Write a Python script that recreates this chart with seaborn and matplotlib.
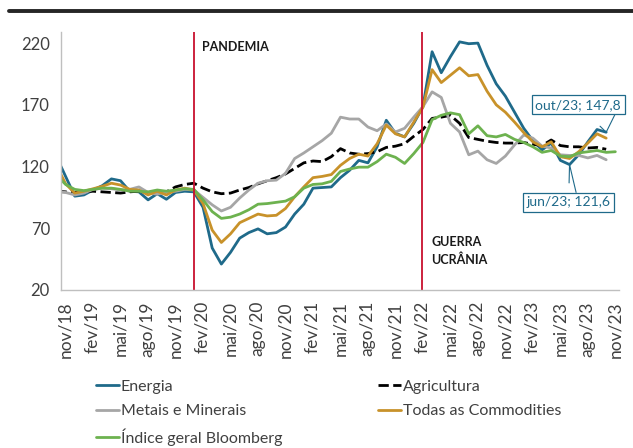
import matplotlib
matplotlib.use('Agg')
import matplotlib.pyplot as plt
import matplotlib.transforms as mtransforms
from matplotlib.lines import Line2D
import seaborn as sns
import numpy as np
import pandas as pd

# months from out/18 to nov/23 (out/18 sits just left of the axis and gets clipped)
months = pd.period_range('2018-10', '2023-11', freq='M')

energia = [128, 112, 96, 97, 101, 104.5, 110, 108.5, 100, 99.5, 93, 98, 93.5, 99, 100, 99.5,
           87, 54, 41, 50.5, 62, 66.5, 69.5, 65.5, 66.5, 71, 81.5, 89.5, 102.5, 103, 103.5, 111,
           117, 125, 123, 136, 157.5, 147, 144, 155, 168.5, 213, 196, 209, 221, 219.5, 220, 202,
           187, 177, 164, 151, 141, 133.5, 139, 125, 121.6, 129.5, 140, 150, 147.8, np.nan]
agricultura = [100, 99.5, 99, 99.5, 100, 99.5, 99, 98.5, 99.5, 100, 99, 98.5, 99.5, 103.5, 105.5, 106.5,
               102.5, 99.5, 98, 98.5, 101, 103, 106, 108.5, 111, 114, 118.5, 123, 124.5, 124, 128, 134.5,
               131, 130, 130.5, 132, 135.5, 136.5, 138.5, 144.5, 150, 159, 160, 161.5, 155, 143.5, 142, 140.5,
               139.5, 139, 139, 139.5, 138, 137, 141.5, 137, 136, 136, 135, 135.5, 134, np.nan]
metais = [99.5, 99, 97, 98.5, 101.5, 102.5, 102, 101, 101.5, 103.5, 99, 97.5, 99.5, 100, 101.5, 101,
          95, 89, 84, 87, 94.5, 101, 106.5, 108.5, 109, 114.5, 126.5, 131, 136, 141, 147, 160,
          158.5, 158.5, 152, 149, 154.5, 148, 151, 160, 168.5, 180.5, 176, 155, 148, 129.5, 132.5, 125.5,
          122.5, 128.5, 137.5, 145.5, 143, 136.5, 135, 129.5, 129, 129, 127, 129, 125.5, np.nan]
todas = [121, 106, 98.5, 100, 102, 104, 106.5, 105, 101.5, 101, 97, 100, 97, 101, 102.5, 101,
         90, 68.5, 58.5, 65.5, 74.5, 78, 81.5, 80, 80.5, 86, 95.5, 103.5, 111, 112, 113.5, 121,
         126.5, 130, 128.5, 138.5, 153.5, 146.5, 144, 156, 168, 198.5, 188, 194, 200, 193.5, 194.5, 181,
         170, 164, 156, 147.5, 140, 136, 140, 128, 126.5, 132, 139, 146.5, 143, np.nan]
bloomberg = [113, 105.5, 101.5, 100.5, 101.5, 102.5, 102.5, 101.5, 100, 100, 99.5, 101, 100, 101, 102, 101.5,
             93, 83.5, 78, 79, 81.5, 85, 89.5, 90, 91, 92, 95.5, 102.5, 105.5, 106, 108, 116,
             118, 119.5, 119.5, 124, 130, 127.5, 122.5, 130.5, 139.5, 158, 161.5, 163.5, 162, 146.5, 153, 145,
             144, 146, 142, 139.5, 136, 131.5, 133, 128.5, 128, 131, 132, 133, 131.5, 132]

tick_labels = ['nov/18', 'fev/19', 'mai/19', 'ago/19', 'nov/19', 'fev/20', 'mai/20', 'ago/20',
               'nov/20', 'fev/21', 'mai/21', 'ago/21', 'nov/21', 'fev/22', 'mai/22', 'ago/22',
               'nov/22', 'fev/23', 'mai/23', 'ago/23', 'nov/23']
y_ticks = [20, 70, 120, 170, 220]

series = [
    ('Energia', energia, '#1F6A8A', '-'),
    ('Agricultura', agricultura, '#000000', '--'),
    ('Metais e Minerais', metais, '#A6A6A6', '-'),
    ('Todas as Commodities', todas, '#C8922A', '-'),
    ('Índice geral Bloomberg', bloomberg, '#6DB24F', '-'),
]

sns.set_style('white')
plt.rcParams['font.family'] = ['Lato', 'DejaVu Sans']

# x position in months since nov/18, data points centred in their month
xpos = np.arange(len(months)) - 1 + 0.5

fig = plt.figure(figsize=(6.33, 4.48), dpi=100)
ax = fig.add_axes([0.0964, 0.3527, 0.8815, 0.5759])

handles = {}
for name, vals, color, ls in series:
    df = pd.DataFrame({'x': xpos, 'y': vals})
    sns.lineplot(data=df, x='x', y='y', ax=ax, color=color, lw=2.0, linestyle=ls, clip_on=True)
    handles[name] = Line2D([], [], color=color, lw=2.0, linestyle=ls)

# event markers
ax.axvline(14.46, color='#C8102E', lw=1.3)
ax.axvline(39.45, color='#C8102E', lw=1.3)
ax.text(15.4, 216.5, 'PANDEMIA', fontsize=9, fontweight='bold', va='center', color='#1a1a1a')
ax.text(40.4, 51.5, 'GUERRA\nUCRÂNIA', fontsize=9, fontweight='bold', va='center',
        color='#1a1a1a', linespacing=1.45)

# callouts
teal = '#1F6A8A'
box = dict(boxstyle='square,pad=0.25', fc='white', ec=teal, lw=0.9)
i_out = len(months) - 2
i_jun = len(months) - 6
ax.annotate('out/23; 147,8', xy=(xpos[i_out], energia[i_out]), xytext=(56.45, 170),
            fontsize=10, color=teal, ha='center', va='center', bbox=box,
            arrowprops=dict(arrowstyle='-', color=teal, lw=0.8, relpos=(0.95, 0), shrinkA=0, shrinkB=0))
ax.annotate('', xy=(xpos[i_out], energia[i_out]), xytext=(56.45, 170),
            arrowprops=dict(arrowstyle='-', color=teal, lw=0.8, relpos=(0.5, 0.5), shrinkA=22, shrinkB=0))
ax.annotate('jun/23; 121,6', xy=(xpos[i_jun], energia[i_jun]), xytext=(55.4, 91),
            fontsize=10, color=teal, ha='center', va='center', bbox=box,
            arrowprops=dict(arrowstyle='-', color=teal, lw=0.8, relpos=(0.6, 1), shrinkA=0, shrinkB=0))
ax.annotate('', xy=(xpos[i_jun], energia[i_jun]), xytext=(55.4, 91),
            arrowprops=dict(arrowstyle='-', color=teal, lw=0.8, relpos=(0.5, 0.5), shrinkA=14, shrinkB=0))

ax.set_xlim(0, 60.9)
ax.set_ylim(20, 229)
ax.set_xticks(np.arange(0, 61, 3))
ax.set_xticklabels(tick_labels, rotation=90)
ax.set_yticks(y_ticks)
ax.set_xlabel('')
ax.set_ylabel('')
ax.tick_params(axis='x', direction='out', length=5, width=0.8, color='#BFBFBF',
               labelsize=12.5, labelcolor='#404040', pad=3)
ax.tick_params(axis='y', direction='out', length=5, width=0.8, color='#BFBFBF',
               labelsize=12, labelcolor='#404040', pad=3)
shift = mtransforms.ScaledTranslation(4 / 100, 0, fig.dpi_scale_trans)
for lab in ax.get_xticklabels():
    lab.set_transform(lab.get_transform() + shift)
for side in ['top', 'right']:
    ax.spines[side].set_visible(False)
for side in ['left', 'bottom']:
    ax.spines[side].set_color('#BFBFBF')
    ax.spines[side].set_linewidth(1.0)

# header rule
fig.add_artist(Line2D([0.014, 1.0], [0.975, 0.975], transform=fig.transFigure,
                      color='#262626', lw=2.8))

order = ['Energia', 'Metais e Minerais', 'Índice geral Bloomberg', 'Agricultura', 'Todas as Commodities']
leg = fig.legend([handles[n] for n in order], order, ncol=2, loc='upper left',
                 bbox_to_anchor=(0.152, 0.152), frameon=False, fontsize=11.5,
                 handlelength=1.4, handletextpad=0.15, columnspacing=6.0,
                 labelspacing=0.62, borderaxespad=0, borderpad=0)
for t in leg.get_texts():
    t.set_color('#404040')

fig.savefig('out.png', dpi=100)
